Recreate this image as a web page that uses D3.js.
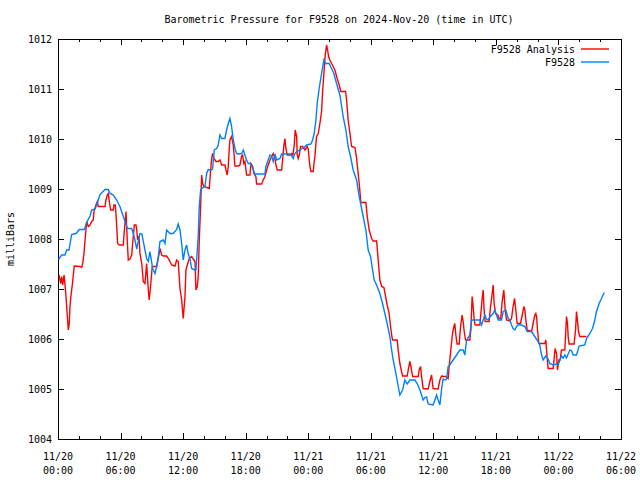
<!DOCTYPE html>
<html><head><meta charset="utf-8">
<script src="https://cdn.jsdelivr.net/npm/d3@7"></script>
<style>
body{margin:0;background:#fff}
svg text{font-family:"DejaVu Sans Mono","Liberation Mono",monospace;font-size:10px;fill:#000}
</style>
</head><body>
<svg id="chart" width="640" height="480"></svg>
<script>
const chartTitle = "Barometric Pressure for F9528 on 2024-Nov-20 (time in UTC)";
const yAxisLabel = "milliBars";
const seriesNames = ["F9528 Analysis", "F9528"];
const seriesColors = ["#ff0000", "#0080ff"];
const startUTC = Date.UTC(2024, 10, 20, 0, 0);
const endUTC = Date.UTC(2024, 10, 22, 6, 0);
const yTicks = [1004, 1005, 1006, 1007, 1008, 1009, 1010, 1011, 1012];
const xMajorHours = [0, 6, 12, 18, 24, 30, 36, 42, 48, 54];
const xMinorHours = [2, 4, 8, 10, 14, 16, 20, 22, 26, 28, 32, 34, 38, 40, 44, 46, 50, 52];

// hours since 2024-11-20 00:00 UTC
const analysisHours = [0.10,0.26,0.35,0.45,0.58,0.67,0.77,0.83,0.99,1.08,1.15,1.25,1.37,1.47,1.56,2.11,2.27,2.37,2.49,2.59,2.68,2.75,2.91,3.07,3.23,3.38,3.45,3.64,3.77,3.86,4.51,4.60,4.73,4.82,4.92,5.05,5.30,5.37,5.49,5.56,5.72,5.88,6.26,6.33,6.52,6.64,6.74,6.90,7.07,7.16,7.32,7.48,7.55,7.64,7.77,7.86,8.03,8.18,8.34,8.50,8.66,8.75,8.89,9.04,9.46,9.62,9.78,9.94,10.10,10.42,10.58,10.74,10.90,11.22,11.38,11.53,11.70,11.86,12.01,12.18,12.27,12.40,12.59,12.82,12.97,13.14,13.23,13.36,13.45,13.55,13.68,13.78,13.87,14.00,14.51,14.64,14.74,14.83,14.96,15.15,15.37,15.53,15.70,16.01,16.11,16.23,16.33,16.42,16.49,16.65,16.81,16.90,16.97,17.29,17.45,17.61,17.71,17.83,17.93,18.09,18.41,18.50,18.67,18.79,18.98,19.05,19.53,19.68,19.85,20.01,20.16,20.33,20.49,20.64,20.81,20.90,21.03,21.45,21.54,21.67,21.76,21.86,21.99,22.24,22.41,22.53,22.66,22.75,22.89,22.94,23.04,23.14,23.27,23.46,23.68,23.90,24.00,24.16,24.26,24.48,24.55,24.64,24.74,24.80,24.96,25.12,25.28,25.38,25.50,25.63,25.76,25.86,25.95,26.08,26.24,26.40,26.56,26.78,26.97,27.13,27.58,27.68,27.83,28.00,28.16,28.48,28.64,28.79,28.89,29.00,29.05,29.53,29.66,29.85,30.08,30.23,30.56,30.71,30.87,31.04,31.26,31.42,31.57,31.76,31.90,32.00,32.09,32.53,32.63,32.79,32.95,33.05,33.49,33.59,33.75,33.85,34.01,34.55,34.64,34.78,34.87,35.02,35.50,35.67,35.83,35.98,36.46,36.63,36.79,37.01,37.20,37.42,37.52,37.65,37.75,37.84,37.97,38.06,38.16,38.28,38.48,38.61,38.76,38.86,38.96,39.09,39.50,39.60,39.72,39.82,39.92,40.01,40.46,40.56,40.68,40.78,40.87,40.97,41.35,41.49,41.64,41.74,41.83,41.97,42.19,42.31,42.47,42.60,42.76,42.89,43.02,43.34,43.50,43.65,43.79,43.91,44.04,44.36,44.56,44.68,44.78,44.87,45.00,45.42,45.57,45.73,45.83,45.90,45.99,46.12,46.69,46.79,46.86,47.01,47.49,47.59,47.68,47.82,47.91,48.04,48.16,48.29,48.61,48.71,48.77,48.87,48.93,49.02,49.50,49.64,49.73,49.83,49.92,50.05,50.69];
const analysisValues = [1007.28,1007.11,1007.25,1007.08,1007.28,1007.08,1006.85,1006.65,1006.18,1006.31,1006.65,1006.88,1007.08,1007.28,1007.46,1007.45,1007.43,1007.51,1007.71,1007.98,1008.18,1008.35,1008.25,1008.28,1008.35,1008.38,1008.55,1008.68,1008.75,1008.65,1008.65,1008.78,1008.88,1008.91,1008.75,1008.58,1008.58,1008.68,1008.68,1008.51,1007.91,1007.88,1007.88,1008.08,1008.55,1007.98,1007.58,1007.60,1007.68,1007.91,1008.28,1008.28,1008.18,1007.98,1008.06,1007.71,1007.51,1007.15,1007.11,1007.51,1006.98,1006.78,1007.08,1007.45,1007.45,1007.61,1007.81,1007.68,1007.66,1007.66,1007.61,1007.55,1007.48,1007.46,1007.58,1007.55,1007.01,1006.78,1006.41,1006.85,1007.38,1007.48,1007.61,1007.65,1007.60,1007.55,1006.98,1007.05,1007.25,1007.98,1008.65,1009.28,1009.11,1009.05,1009.01,1009.38,1009.61,1009.71,1009.61,1009.55,1009.55,1009.58,1009.48,1009.48,1009.38,1009.28,1009.45,1009.78,1009.98,1010.05,1009.88,1009.65,1009.46,1009.46,1009.48,1009.66,1009.68,1009.51,1009.55,1009.28,1009.28,1009.51,1009.45,1009.31,1009.25,1009.10,1009.10,1009.18,1009.25,1009.38,1009.48,1009.58,1009.65,1009.71,1009.61,1009.48,1009.38,1009.38,1009.58,1009.88,1010.01,1009.81,1009.68,1009.68,1009.71,1009.68,1009.88,1010.18,1010.05,1009.68,1009.61,1009.68,1009.85,1009.85,1009.78,1009.85,1009.80,1009.45,1009.35,1009.35,1009.51,1009.65,1009.91,1010.05,1010.11,1010.31,1010.55,1010.95,1011.31,1011.68,1011.88,1011.78,1011.65,1011.58,1011.51,1011.45,1011.38,1011.21,1011.08,1010.95,1010.95,1010.78,1010.38,1010.11,1009.85,1009.83,1009.61,1009.31,1009.11,1008.85,1008.73,1008.73,1008.45,1008.18,1008.01,1007.96,1007.96,1007.58,1007.18,1007.05,1007.03,1006.85,1006.68,1006.51,1006.25,1006.08,1005.98,1005.98,1005.78,1005.51,1005.35,1005.26,1005.26,1005.38,1005.55,1005.45,1005.25,1005.25,1005.38,1005.45,1005.25,1005.01,1005.00,1005.15,1005.28,1005.01,1005.00,1005.18,1005.26,1005.25,1005.25,1005.21,1005.45,1005.73,1005.93,1006.11,1006.25,1006.31,1006.08,1005.90,1005.90,1006.25,1006.48,1006.35,1006.15,1005.98,1005.98,1006.18,1006.85,1006.65,1006.38,1006.28,1006.28,1006.51,1006.81,1006.98,1006.58,1006.35,1006.35,1006.65,1006.91,1007.08,1006.71,1006.51,1006.48,1006.41,1006.41,1006.75,1006.98,1006.58,1006.38,1006.36,1006.41,1006.65,1006.81,1006.58,1006.31,1006.31,1006.51,1006.65,1006.58,1006.38,1006.18,1006.15,1006.31,1006.48,1006.51,1006.45,1006.18,1005.91,1005.91,1005.98,1005.78,1005.41,1005.41,1005.61,1005.81,1005.71,1005.38,1005.58,1005.58,1005.78,1005.78,1006.18,1006.45,1006.31,1006.05,1005.90,1005.90,1006.18,1006.55,1006.35,1006.15,1006.05,1006.05];

const stationHours = [0.05,0.35,0.67,0.83,1.05,1.31,1.73,2.04,2.52,2.75,3.07,3.23,3.55,3.71,4.03,4.51,4.82,4.99,5.30,5.63,5.94,6.26,6.52,6.64,7.07,7.22,7.38,7.55,7.70,7.86,8.05,8.34,8.50,8.66,8.82,9.08,9.30,9.46,9.62,9.78,10.10,10.26,10.42,10.74,11.05,11.38,11.53,11.70,11.86,12.01,12.18,12.34,12.49,12.66,12.82,13.14,13.23,13.36,13.45,13.55,13.68,13.78,14.09,14.26,14.41,14.74,14.83,14.99,15.22,15.37,15.53,15.70,16.01,16.17,16.33,16.49,16.65,16.81,16.97,17.13,17.29,17.61,17.77,17.93,18.09,18.25,18.41,18.57,18.73,18.89,19.85,19.94,20.16,20.33,20.49,20.64,20.81,20.97,21.29,21.45,22.24,22.41,22.56,22.72,22.89,23.20,23.59,23.85,24.26,24.42,24.57,24.74,24.86,25.05,25.28,25.50,25.67,26.01,26.24,26.46,26.72,27.04,27.35,27.61,27.83,28.06,28.31,28.64,28.89,28.96,29.27,29.53,29.75,29.98,30.17,30.33,30.56,30.87,31.13,31.35,31.57,31.83,32.00,32.15,32.41,32.63,32.79,33.05,33.27,33.49,33.75,34.23,34.45,34.71,34.87,35.02,35.19,35.35,35.50,35.98,36.15,36.31,36.46,36.63,36.79,36.94,37.11,37.27,37.42,37.58,37.90,38.23,38.54,38.86,39.02,39.19,39.50,39.67,40.46,40.62,40.78,40.94,41.10,41.26,41.42,41.74,41.90,42.06,42.22,42.54,42.70,42.95,43.18,43.34,43.50,43.65,43.82,43.98,44.13,44.46,44.78,45.00,45.42,45.73,46.05,46.21,46.38,46.53,46.79,47.01,47.17,47.49,47.82,47.97,48.13,48.29,48.45,48.61,48.77,49.09,49.25,49.41,49.73,49.98,50.53,50.69,51.01,51.27,51.49,51.65,51.90,52.13,52.28,52.40];
const stationValues = [1007.59,1007.68,1007.68,1007.78,1007.78,1008.09,1008.11,1008.19,1008.19,1008.33,1008.46,1008.58,1008.60,1008.68,1008.89,1008.99,1008.99,1008.91,1008.88,1008.78,1008.65,1008.45,1008.30,1008.21,1008.21,1008.11,1007.98,1007.80,1007.95,1008.11,1008.10,1007.78,1007.61,1007.55,1007.75,1007.41,1007.31,1007.45,1007.65,1007.95,1007.98,1007.91,1008.18,1008.11,1008.11,1008.19,1008.30,1008.18,1007.91,1007.58,1007.78,1007.88,1007.70,1007.60,1007.41,1007.38,1007.38,1007.78,1008.05,1008.65,1008.98,1009.01,1009.05,1009.31,1009.39,1009.38,1009.41,1009.78,1009.81,1009.88,1010.08,1010.01,1010.01,1010.18,1010.31,1010.41,1010.25,1009.98,1009.81,1009.71,1009.70,1009.71,1009.78,1009.68,1009.58,1009.51,1009.51,1009.46,1009.38,1009.30,1009.30,1009.45,1009.58,1009.68,1009.66,1009.55,1009.70,1009.58,1009.61,1009.70,1009.70,1009.66,1009.61,1009.71,1009.75,1009.78,1009.83,1009.88,1009.90,1009.98,1010.11,1010.38,1010.71,1011.01,1011.31,1011.58,1011.51,1011.51,1011.41,1011.31,1011.11,1010.88,1010.45,1010.18,1009.85,1009.65,1009.38,1009.18,1008.85,1008.78,1008.45,1008.18,1007.78,1007.65,1007.38,1007.18,1007.08,1006.91,1006.71,1006.51,1006.31,1006.05,1005.78,1005.58,1005.31,1005.05,1004.88,1004.98,1005.18,1005.10,1005.18,1005.18,1005.11,1004.98,1004.88,1004.78,1004.83,1004.84,1004.70,1004.68,1004.78,1004.88,1004.78,1004.68,1005.00,1005.20,1005.18,1005.20,1005.45,1005.48,1005.58,1005.68,1005.78,1005.78,1005.68,1005.98,1006.08,1006.38,1006.38,1006.28,1006.38,1006.48,1006.40,1006.38,1006.44,1006.51,1006.58,1006.48,1006.38,1006.38,1006.55,1006.58,1006.41,1006.38,1006.28,1006.21,1006.18,1006.25,1006.28,1006.28,1006.25,1006.15,1006.15,1006.05,1005.95,1005.88,1005.68,1005.58,1005.66,1005.60,1005.51,1005.48,1005.50,1005.48,1005.58,1005.66,1005.62,1005.68,1005.62,1005.78,1005.77,1005.68,1005.68,1005.86,1005.88,1006.01,1006.11,1006.21,1006.38,1006.55,1006.71,1006.81,1006.88,1006.93];

const toDate = h => new Date(startUTC + h * 3600000);
const analysis = analysisHours.map((h, i) => ({t: toDate(h), v: analysisValues[i]}));
const station = stationHours.map((h, i) => ({t: toDate(h), v: stationValues[i]}));

const W = 640, H = 480;
const m = {left: 58, right: 19, top: 39, bottom: 41};
const iw = W - m.left - m.right, ih = H - m.top - m.bottom;

const svg = d3.select("#chart");
svg.append("rect").attr("width", W).attr("height", H).attr("fill", "#fff");

const x = d3.scaleUtc().domain([new Date(startUTC), new Date(endUTC)]).range([m.left, m.left + iw]);
const y = d3.scaleLinear().domain([1004, 1012]).range([m.top + ih, m.top]);

// title
svg.append("text").attr("x", 339).attr("y", 23).attr("text-anchor", "middle").text(chartTitle);
// y label
svg.append("text").attr("transform", `translate(14,${m.top + ih / 2}) rotate(-90)`)
  .attr("text-anchor", "middle").text(yAxisLabel);

const majorDates = xMajorHours.map(toDate);
const minorDates = xMinorHours.map(toDate);

function styleAxis(g) {
  g.select(".domain").remove();
  g.selectAll("line").attr("stroke", "#000").attr("shape-rendering", "crispEdges");
  g.selectAll("text").remove();
}

// bottom & top ticks (inward)
svg.append("g").attr("transform", `translate(0,${m.top + ih})`)
  .call(d3.axisBottom(x).tickValues(majorDates).tickSize(-6).tickFormat("")).call(styleAxis);
svg.append("g").attr("transform", `translate(0,${m.top + ih})`)
  .call(d3.axisBottom(x).tickValues(minorDates).tickSize(-3).tickFormat("")).call(styleAxis);
svg.append("g").attr("transform", `translate(0,${m.top})`)
  .call(d3.axisTop(x).tickValues(majorDates).tickSize(-6).tickFormat("")).call(styleAxis);
svg.append("g").attr("transform", `translate(0,${m.top})`)
  .call(d3.axisTop(x).tickValues(minorDates).tickSize(-3).tickFormat("")).call(styleAxis);
// left & right ticks
svg.append("g").attr("transform", `translate(${m.left},0)`)
  .call(d3.axisLeft(y).tickValues(yTicks).tickSize(-6).tickFormat("")).call(styleAxis);
svg.append("g").attr("transform", `translate(${m.left + iw},0)`)
  .call(d3.axisRight(y).tickValues(yTicks).tickSize(-6).tickFormat("")).call(styleAxis);

// y tick labels
svg.append("g").selectAll("text").data(yTicks).join("text")
  .attr("x", m.left - 6).attr("y", d => y(d)).attr("dy", "0.35em")
  .attr("text-anchor", "end").text(d => d3.format("d")(d));

// x tick labels (two lines)
const fDay = d3.utcFormat("%m/%d"), fTime = d3.utcFormat("%H:%M");
const xl = svg.append("g").selectAll("text").data(majorDates).join("text")
  .attr("text-anchor", "middle");
xl.append("tspan").attr("x", d => x(d)).attr("y", 460).text(d => fDay(d));
xl.append("tspan").attr("x", d => x(d)).attr("y", 474).text(d => fTime(d));

// frame
svg.append("rect").attr("x", m.left).attr("y", m.top).attr("width", iw).attr("height", ih)
  .attr("fill", "none").attr("stroke", "#000").attr("shape-rendering", "crispEdges");

// lines
const line = d3.line().x(d => x(d.t)).y(d => y(d.v));
const plot = svg.append("g");
plot.append("path").datum(analysis).attr("d", line).attr("fill", "none")
  .attr("stroke", seriesColors[0]).attr("stroke-width", 1.4).attr("stroke-linejoin", "miter");
plot.append("path").datum(station).attr("d", line).attr("fill", "none")
  .attr("stroke", seriesColors[1]).attr("stroke-width", 1.4).attr("stroke-linejoin", "miter");

// legend
const leg = svg.append("g");
seriesNames.forEach((name, i) => {
  const ly = 49 + i * 13;
  leg.append("text").attr("x", 575).attr("y", ly).attr("dy", "0.35em")
    .attr("text-anchor", "end").text(name);
  leg.append("line").attr("x1", 581).attr("x2", 609).attr("y1", ly).attr("y2", ly)
    .attr("stroke", seriesColors[i]).attr("stroke-width", 1.4);
});
</script>
</body></html>
